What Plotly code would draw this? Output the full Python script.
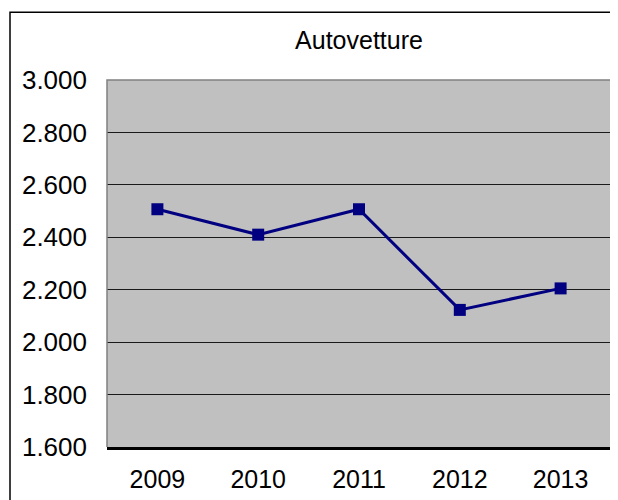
import plotly.graph_objects as go

# Autovetture per anno (migliaia)
anni = ["2009", "2010", "2011", "2012", "2013"]
autovetture = [2507, 2410, 2507, 2123, 2205]

fig = go.Figure()
fig.add_trace(go.Scatter(
    x=anni, y=autovetture, mode="lines+markers",
    line=dict(color="#000080", width=3),
    marker=dict(symbol="square", size=12, color="#000080"),
    showlegend=False
))

# la pagina ha un margine di 8px: la figura è un po' più piccola della finestra
fig.update_layout(
    width=610, height=492,
    margin=dict(l=99, r=7, t=72, b=51),
    paper_bgcolor="white", plot_bgcolor="#C0C0C0",
    separators=",.",
    font=dict(family="Liberation Sans, Arial", color="black", size=25),
    title=dict(text="Autovetture", x=0.5, xref="paper", y=1 - 32 / 492,
               yanchor="middle", font=dict(size=25)),
)
fig.update_yaxes(
    range=[1600, 3000], dtick=200, tickformat=",.0f",
    tickfont=dict(size=26),
    showgrid=True, gridcolor="#1a1a1a", gridwidth=1.3,
    zeroline=False, showline=False, ticks="", ticklabelstandoff=19,
)
fig.update_xaxes(
    type="category", range=[-0.5, 4.5],
    showgrid=False, showline=True, linecolor="black", linewidth=2.5,
    ticks="", ticklabelstandoff=8,
)

# bordo dell'area del grafico (grigio) e cornice esterna (nera)
fig.add_shape(type="path", xref="paper", yref="paper",
              path="M 0,0 L 0,1 L 1,1 L 1,0",
              line=dict(color="#808080", width=1.5), layer="above")
fig.add_shape(type="rect", xref="paper", yref="paper",
              x0=(2 - 99) / 504, x1=(620 - 99) / 504,
              y0=(441 - 510) / 369, y1=(441 - 4) / 369,
              line=dict(color="black", width=1.5))

fig.write_html("out.html")
